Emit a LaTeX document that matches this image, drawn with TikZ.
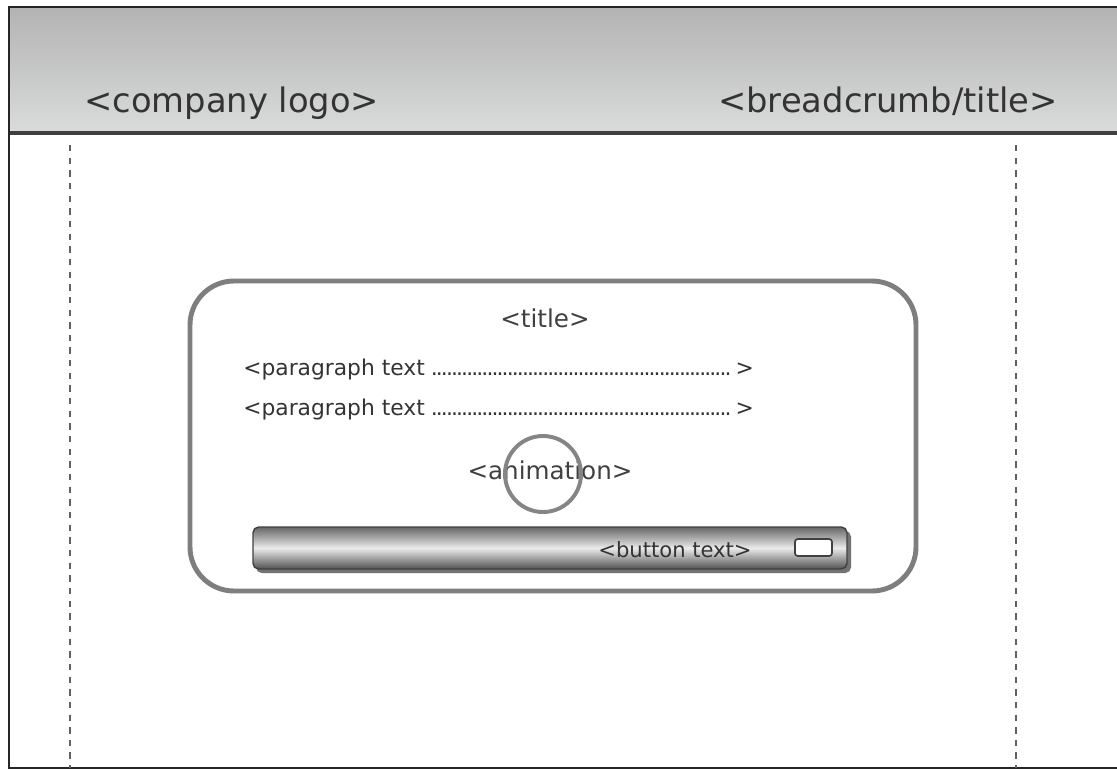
\documentclass[tikz,border=0pt]{standalone}
\usepackage{fontspec}
\setmainfont{DejaVu Sans}
\usetikzlibrary{positioning}

\definecolor{headtop}{HTML}{B3B3B3}
\definecolor{headbot}{HTML}{DADBDB}
\definecolor{cardline}{HTML}{7E7E7E}
\definecolor{inktext}{HTML}{333333}

\newcommand{\leaderdots}[1]{\hbox to #1{\leaders\hbox to 3.6pt{\hss.\hss}\hfill}}

\begin{document}
\begin{tikzpicture}[
  x=0.025cm, y=-0.025cm,
  headtext/.style={font=\fontsize{24}{28}\selectfont, text=inktext, inner sep=0pt, anchor=base west},
  cardtext/.style={font=\fontsize{17.5}{20}\selectfont, text=black!75, inner sep=0pt, anchor=base},
  paratext/.style={font=\fontsize{15.5}{18}\selectfont, text=black!80, inner sep=0pt, anchor=base west},
  guide/.style={draw=black!62, line width=1.5pt, dash pattern=on 4.5pt off 4.5pt}
]
\useasboundingbox (0,0) rectangle (1117,770);

% header band
\shade[top color=headtop, bottom color=headbot] (9,7) rectangle (1117,133);
\draw[black!75, line width=2.2pt] (9,133) -- (1117,133);
\draw[black!85, line width=1.5pt] (1117,7) -- (9,7) -- (9,768) -- (1117,768);

\node[headtext] (logo) at (84,112) {<company logo>};
\node[headtext, anchor=base east] (crumb) at (1058,112) {<breadcrumb/title>};

% column guides
\draw[guide] (70,145) -- (70,768);
\draw[guide] (1016,145) -- (1016,768);

% content card
\draw[cardline, line width=3.5pt, rounded corners=1.1cm] (190,281) rectangle (916,591);

\node[cardtext] (cardtitle) at (545,327) {<title>};
\node[paratext] (para1) at (243,375) {<paragraph text~\leaderdots{216pt}>};
\node[paratext] (para2) at (243,415) {<paragraph text~\leaderdots{216pt}>};
\node[cardtext] (anim) at (550,479) {<animation>};
\draw[black!48, line width=2.8pt] (543,474) circle[radius=0.95cm];

% button bar
\fill[black!55, rounded corners=4pt] (256,531) rectangle (851,573);
\shade[top color=black!60, bottom color=black!68, middle color=black!8, rounded corners=4pt]
  (253,527) rectangle (847,569);
\draw[black!75, line width=1pt, rounded corners=4pt] (253,527) rectangle (847,569);
\node[paratext, font=\fontsize{15}{18}\selectfont, anchor=base] (btntext) at (675,557) {<button text>};
\draw[black!75, fill=white, line width=1.2pt, rounded corners=2pt] (795,539) rectangle (832,556);
\end{tikzpicture}
\end{document}
